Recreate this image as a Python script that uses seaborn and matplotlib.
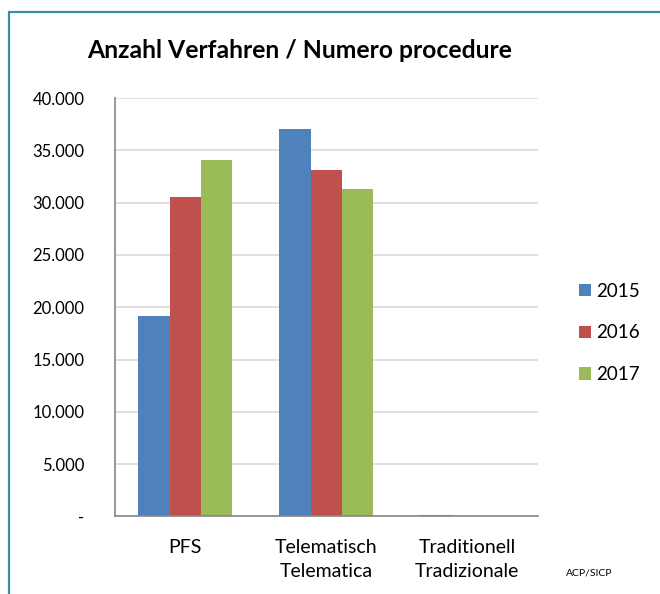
import numpy as np
import pandas as pd
import matplotlib
matplotlib.use("Agg")
import matplotlib.pyplot as plt
import seaborn as sns
from matplotlib.patches import Rectangle
from matplotlib.ticker import FuncFormatter

# --- Daten ---
kategorien = ["PFS", "Telematisch\nTelematica", "Traditionell\nTradizionale"]
jahre = ["2015", "2016", "2017"]
werte_2015 = [19200, 37000, 120]
werte_2016 = [30500, 33150, 80]
werte_2017 = [34050, 31350, 50]
farben = ["#4f81bd", "#c0504d", "#9bbb59"]

df = pd.DataFrame({
    "kategorie": kategorien * 3,
    "jahr": [j for j in jahre for _ in kategorien],
    "wert": werte_2015 + werte_2016 + werte_2017,
})

sns.set_theme(style="white")
plt.rcParams["font.family"] = ["Lato", "DejaVu Sans"]
plt.rcParams["text.color"] = "black"

fig = plt.figure(figsize=(6.6, 5.94), dpi=100)
ax = fig.add_axes([0.174, 0.1305, 0.641, 0.7045])

sns.barplot(data=df, x="kategorie", y="wert", hue="jahr", palette=farben,
            width=0.667, ax=ax, saturation=1, errorbar=None, linewidth=0)

ax.set_ylim(0, 40000)
ax.set_yticks(np.arange(0, 40001, 5000))
ax.yaxis.set_major_formatter(FuncFormatter(
    lambda v, p: "-" if v == 0 else f"{int(v):,}".replace(",", ".")))
ax.grid(axis="y", color="#d9d9d9", linewidth=1.2)
ax.set_axisbelow(True)
ax.set_xlabel("")
ax.set_ylabel("")
for s in ["top", "right"]:
    ax.spines[s].set_visible(False)
for s in ["left", "bottom"]:
    ax.spines[s].set_color("#868686")
    ax.spines[s].set_linewidth(1.2)
ax.tick_params(axis="y", labelsize=12, pad=22, length=0, labelcolor="black")
ax.tick_params(axis="x", labelsize=14, pad=16, length=0, labelcolor="black")
ax.set_xticks(range(len(kategorien)))
ax.set_xticklabels(kategorien, linespacing=1.55, va="top")
for lbl in ax.get_yticklabels():
    lbl.set_horizontalalignment("right")

handles, labels = ax.get_legend_handles_labels()
ax.legend(handles, labels, loc="center left",
          bbox_to_anchor=(579 / 660, 1 - 333 / 594), bbox_transform=fig.transFigure,
          frameon=False, fontsize=13.5, handlelength=0.64, handleheight=0.64,
          labelspacing=1.32, handletextpad=0.27, borderpad=0, borderaxespad=0)

fig.text(300 / 660, 1 - 50 / 594, "Anzahl Verfahren / Numero procedure",
         ha="center", va="center", fontsize=17.8, fontweight="bold")
fig.text(589 / 660, 1 - 573 / 594, "ACP/SICP", ha="center", va="center",
         fontsize=7.5)

fig.patches.append(Rectangle((8.5 / 660, -0.1), 1.2, 1.1 - 11.5 / 594,
                             transform=fig.transFigure, fill=False,
                             edgecolor="#3d8ca8", linewidth=1.6))

fig.savefig("out.png", dpi=100)
